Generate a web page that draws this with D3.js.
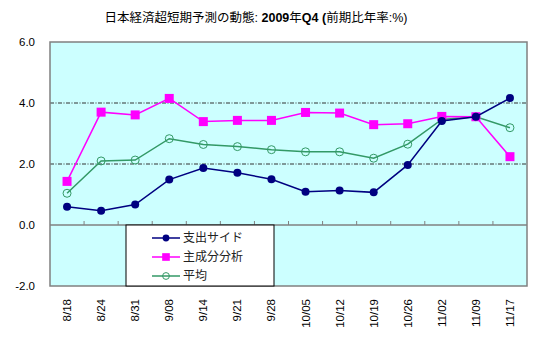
<!DOCTYPE html>
<html>
<head>
<meta charset="utf-8">
<script src="https://cdn.jsdelivr.net/npm/d3@7"></script>
<style>
body { margin: 0; background: #fff; }
svg text { font-family: "Liberation Sans", Arial, "Noto Sans CJK JP", sans-serif; }
</style>
</head>
<body>
<div id="chart"></div>
<script>
var dates = ["8/18","8/24","8/31","9/08","9/14","9/21","9/28","10/05","10/12","10/19","10/26","11/02","11/09","11/17"]
var expenditure = [0.60, 0.47, 0.67, 1.49, 1.87, 1.71, 1.50, 1.09, 1.13, 1.07, 1.97, 3.41, 3.55, 4.16]
var principal = [1.43, 3.70, 3.61, 4.15, 3.39, 3.43, 3.43, 3.69, 3.67, 3.29, 3.32, 3.56, 3.55, 2.24]
var average = [1.04, 2.10, 2.13, 2.83, 2.64, 2.57, 2.47, 2.40, 2.40, 2.19, 2.65, 3.46, 3.55, 3.19]
var yTicks = [-2, 0, 2, 4, 6]
var seriesNames = ["支出サイド", "主成分分析", "平均"]

var width = 535, height = 342
var plotLeft = 50, plotRight = 527, plotTop = 42, plotBottom = 286

var svg = d3.select("#chart").append("svg")
    .attr("width", width)
    .attr("height", height)

var x = d3.scaleBand().domain(dates).range([plotLeft, plotRight])
var y = d3.scaleLinear().domain([-2, 6]).range([plotBottom, plotTop])

// plot background
svg.append("rect")
    .attr("x", plotLeft).attr("y", plotTop)
    .attr("width", plotRight - plotLeft).attr("height", plotBottom - plotTop)
    .attr("fill", "#ccffff")

// gridlines
svg.selectAll(".grid")
    .data([2, 4])
    .enter()
    .append("line")
    .attr("x1", plotLeft).attr("x2", plotRight)
    .attr("y1", d => y(d)).attr("y2", d => y(d))
    .attr("stroke", "#333")
    .attr("stroke-width", 1)
    .attr("stroke-dasharray", "4,1.5,1,1.5")

// x axis line at zero with ticks pointing up
svg.append("line")
    .attr("x1", plotLeft).attr("x2", plotRight)
    .attr("y1", y(0)).attr("y2", y(0))
    .attr("stroke", "#808080").attr("stroke-width", 1.5)

svg.selectAll(".xtick")
    .data(dates.slice(1))
    .enter()
    .append("line")
    .attr("x1", d => x(d)).attr("x2", d => x(d))
    .attr("y1", y(0)).attr("y2", y(0) - 4)
    .attr("stroke", "#808080")

// x labels
svg.selectAll(".xlabel")
    .data(dates)
    .enter()
    .append("text")
    .attr("transform", d => "translate(" + (x(d) + x.bandwidth() / 2 + 4) + "," + 299 + ") rotate(-90)")
    .attr("text-anchor", "end")
    .attr("font-size", "11.5px")
    .attr("fill", "#000")
    .text(d => d)

// y labels
svg.selectAll(".ylabel")
    .data(yTicks)
    .enter()
    .append("text")
    .attr("x", 35)
    .attr("y", d => y(d) + 4)
    .attr("text-anchor", "end")
    .attr("font-size", "11.5px")
    .text(d => d.toFixed(1))

// plot border
svg.append("rect")
    .attr("x", plotLeft).attr("y", plotTop)
    .attr("width", plotRight - plotLeft).attr("height", plotBottom - plotTop)
    .attr("fill", "none")
    .attr("stroke", "#808080")
    .attr("stroke-width", 1.5)

var cx = d => x(d) + x.bandwidth() / 2
var series = [
    {name: seriesNames[0], values: expenditure, color: "#000080", marker: "dot"},
    {name: seriesNames[1], values: principal, color: "#ff00ff", marker: "square"},
    {name: seriesNames[2], values: average, color: "#339966", marker: "ring"}
]

var line = d3.line()
    .x((d, i) => cx(dates[i]))
    .y(d => y(d))

function drawMarker(g, type, color, px, py, scale) {
    if (type == "dot") {
        g.append("circle").attr("cx", px).attr("cy", py).attr("r", 4 * scale).attr("fill", color)
    } else if (type == "square") {
        var s = 9 * scale
        g.append("rect").attr("x", px - s / 2).attr("y", py - s / 2).attr("width", s).attr("height", s).attr("fill", color)
    } else {
        g.append("circle").attr("cx", px).attr("cy", py).attr("r", 4 * scale)
            .attr("fill", "none").attr("stroke", color).attr("stroke-width", 1)
    }
}

// draw in order green, magenta, navy so navy sits on top
var order = [2, 1, 0]
order.forEach(function(k) {
    var s = series[k]
    var g = svg.append("g")
    g.append("path")
        .attr("d", line(s.values))
        .attr("fill", "none")
        .attr("stroke", s.color)
        .attr("stroke-width", 1.5)
    s.values.forEach(function(v, i) {
        drawMarker(g, s.marker, s.color, cx(dates[i]), y(v), 1)
    })
})

// legend
var lg = svg.append("g")
lg.append("rect")
    .attr("x", 126).attr("y", y(0))
    .attr("width", 148).attr("height", plotBottom - y(0))
    .attr("fill", "#fff")
    .attr("stroke", "#000").attr("stroke-width", 1)

var rowY = [238, 257, 276]
series.forEach(function(s, i) {
    lg.append("line")
        .attr("x1", 152).attr("x2", 180)
        .attr("y1", rowY[i]).attr("y2", rowY[i])
        .attr("stroke", s.color).attr("stroke-width", 1.5)
    drawMarker(lg, s.marker, s.color, 166, rowY[i], 0.85)
    lg.append("text")
        .attr("x", 183).attr("y", rowY[i] + 4)
        .attr("font-size", "12px")
        .attr("fill", "#222")
        .text(s.name)
})

// title
var title = svg.append("text")
    .attr("x", 256).attr("y", 22)
    .attr("text-anchor", "middle")
    .attr("font-size", "12.5px")
title.append("tspan").text("日本経済超短期予測の動態: ")
title.append("tspan").attr("font-weight", "bold").text("2009")
title.append("tspan").text("年")
title.append("tspan").attr("font-weight", "bold").text("Q4 (")
title.append("tspan").text("前期比年率:%)")
</script>
</body>
</html>
